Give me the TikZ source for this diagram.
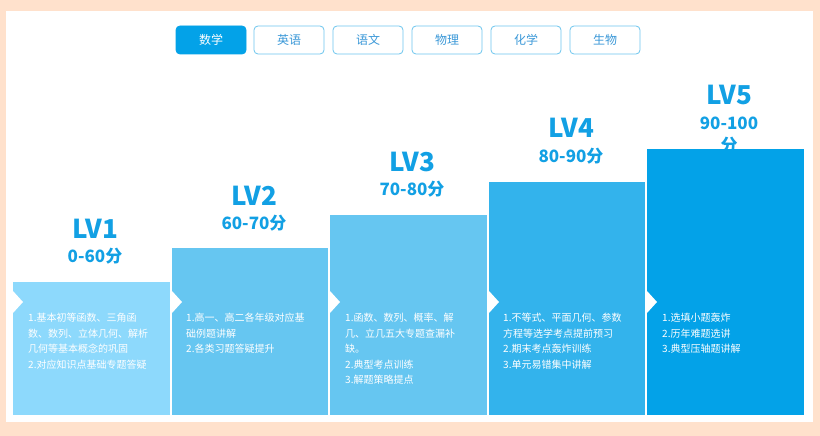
\documentclass[tikz,border=0pt]{standalone}
\usepackage{fontspec}
\setmainfont{Noto Sans CJK SC}
\definecolor{peach}{HTML}{FFE1CC}
\definecolor{lvone}{HTML}{8DD9FC}
\definecolor{lvtwo}{HTML}{66C6F1}
\definecolor{lvfour}{HTML}{33B3EC}
\definecolor{lvfive}{HTML}{03A2E8}
\definecolor{head}{HTML}{12A0E4}
\definecolor{tabline}{HTML}{6CC5EE}
\definecolor{tabtext}{HTML}{3A98D8}
\begin{document}
\begin{tikzpicture}[x=1pt,y=-1pt,
  tab/.style={draw=tabline, line width=0.8pt, rounded corners=4pt, fill=white,
    minimum width=70pt, minimum height=28pt, inner sep=0pt, text=tabtext,
    font=\fontsize{12}{14}\selectfont},
  tabon/.style={tab, draw=lvfive, fill=lvfive, text=white},
  lvlabel/.style={text=head, font=\bfseries\fontsize{26}{30}\selectfont, inner sep=0pt},
  score/.style={text=head, font=\bfseries\fontsize{17}{20}\selectfont, inner sep=0pt, align=center},
  desc/.style={text=white, font=\fontsize{10}{15.5}\selectfont, align=left,
    anchor=north west, inner sep=0pt},
  notch/.style={fill=white}]
\useasboundingbox (0,0) rectangle (820,436);
\fill[peach] (0,0) rectangle (820,436);
\fill[white] (6,11) rectangle (813,422);

% tabs
\node[tabon] (t1) at (211,40) {数学};
\node[tab] (t2) at (289,40) {英语};
\node[tab] (t3) at (368,40) {语文};
\node[tab] (t4) at (447,40) {物理};
\node[tab] (t5) at (526,40) {化学};
\node[tab] (t6) at (605,40) {生物};

% headers
\node[lvlabel] (h1) at (95,229) {LV1};
\node[score] (s1) at (95,256) {0-60分};
\node[lvlabel] (h2) at (254,196) {LV2};
\node[score] (s2) at (254,223) {60-70分};
\node[lvlabel] (h3) at (412,162) {LV3};
\node[score] (s3) at (412,189) {70-80分};
\node[lvlabel] (h4) at (571,128) {LV4};
\node[score] (s4) at (571,156) {80-90分};
\node[lvlabel] (h5) at (729,95) {LV5};
\node[score, font=\bfseries\fontsize{17}{22}\selectfont] (s5) at (729,135) {90-100\\分};

% blocks
\fill[lvone] (13,282) rectangle (170,415);
\fill[lvtwo] (172,248) rectangle (328,415);
\fill[lvtwo] (330,215) rectangle (487,415);
\fill[lvfour] (489,182) rectangle (645,415);
\fill[lvfive] (647,149) rectangle (804,415);

% notches
\foreach \x in {13,172,330,489,647}
  \fill[notch] (\x,291) -- (\x+10,302) -- (\x,313) -- cycle;

% descriptions
\node[desc] (d1) at (28,313) {1.基本初等函数、三角函\\数、数列、立体几何、解析\\几何等基本概念的巩固\\2.对应知识点基础专题答疑};
\node[desc] (d2) at (186,313) {1.高一、高二各年级对应基\\础例题讲解\\2.各类习题答疑提升};
\node[desc] (d3) at (345,313) {1.函数、数列、概率、解\\几、立几五大专题查漏补\\缺。\\2.典型考点训练\\3.解题策略提点};
\node[desc] (d4) at (503,313) {1.不等式、平面几何、参数\\方程等选学考点提前预习\\2.期末考点轰炸训练\\3.单元易错集中讲解};
\node[desc] (d5) at (662,313) {1.选填小题轰炸\\2.历年难题选讲\\3.典型压轴题讲解};
\end{tikzpicture}
\end{document}
